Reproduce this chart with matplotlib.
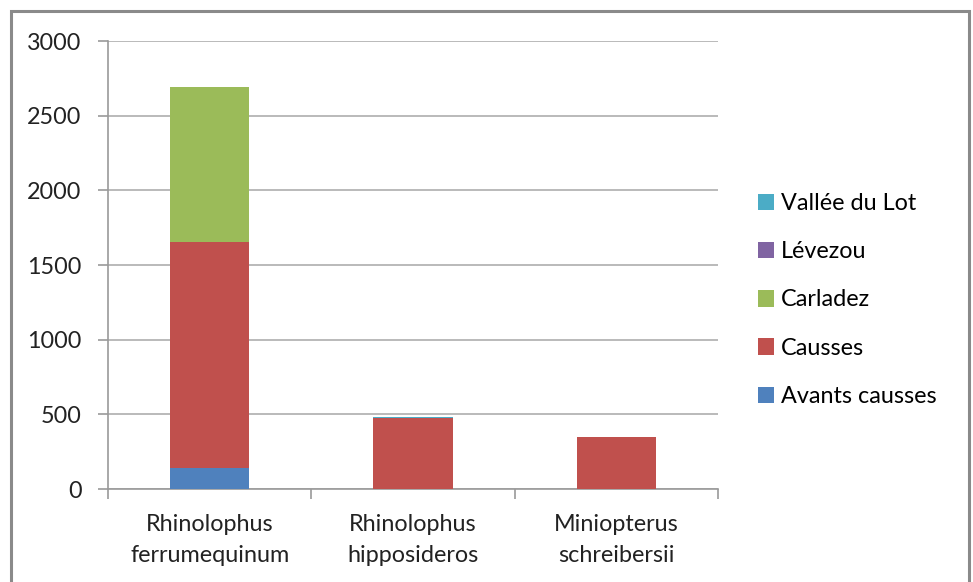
import matplotlib
matplotlib.use("Agg")
import matplotlib.pyplot as plt
from matplotlib.patches import Rectangle, Patch
import numpy as np

# Bat counts per species, broken down by region
species = ["Rhinolophus\nferrumequinum", "Rhinolophus\nhipposideros", "Miniopterus\nschreibersii"]
regions = ["Avants causses", "Causses", "Carladez", "Lévezou", "Vallée du Lot"]
avants_causses = [140, 0, 0]
causses = [1515, 473, 345]
carladez = [1040, 0, 0]
levezou = [0, 0, 0]
vallee_du_lot = [0, 7, 0]
colors = ["#4F81BD", "#C0504D", "#9BBB59", "#8064A2", "#4BACC6"]
yticks = [0, 500, 1000, 1500, 2000, 2500, 3000]

plt.rcParams["font.family"] = ["Lato", "DejaVu Sans"]
FS = 16.8

fig = plt.figure(figsize=(9.73, 5.82), dpi=100)
ax = fig.add_axes([108 / 973, 1 - 489 / 582, (718 - 108) / 973, (489 - 41) / 582])

x = np.arange(len(species))
bottom = np.zeros(len(species))
series = [avants_causses, causses, carladez, levezou, vallee_du_lot]
for vals, col in zip(series, colors):
    vals = np.array(vals, dtype=float)
    ax.bar(x, vals, width=0.39, bottom=bottom, color=col, zorder=3)
    bottom += vals

ax.set_xlim(-0.5, 2.5)
ax.set_ylim(0, 3000)
ax.set_yticks(yticks)
ax.set_yticklabels([str(v) for v in yticks], fontsize=FS, color="#222222")
ax.yaxis.grid(True, color="#AEAEAE", linewidth=1.2, zorder=0)
ax.set_axisbelow(True)

# Category boundaries carry the tick marks; labels sit at the centres
ax.set_xticks([-0.5, 0.5, 1.5, 2.5])
ax.set_xticklabels([])
ax.set_xticks(x, minor=True)
ax.set_xticklabels(species, minor=True, fontsize=FS, color="#222222", linespacing=1.6)
ax.tick_params(axis="x", which="major", length=7, color="#9A9A9A", width=1.2)
ax.tick_params(axis="x", which="minor", length=0, pad=18)
ax.tick_params(axis="y", length=7, color="#9A9A9A", width=1.2, pad=12)

for s in ["top", "right"]:
    ax.spines[s].set_visible(False)
for s in ["left", "bottom"]:
    ax.spines[s].set_color("#9A9A9A")
    ax.spines[s].set_linewidth(1.2)

handles = [Patch(facecolor=c) for c in colors][::-1]
fig.legend(handles, regions[::-1], loc="center left",
           bbox_to_anchor=(737 / 973, 1 - 300 / 582), frameon=False,
           fontsize=FS, handlelength=0.7, handleheight=0.7,
           handletextpad=0.3, labelspacing=1.17)

# Outer chart border
fig.patches.append(Rectangle((11 / 973, -0.1), (969 - 11) / 973, (582 - 11) / 582 + 0.1,
                             transform=fig.transFigure, fill=False,
                             edgecolor="#8A8A8A", linewidth=2.2))

fig.savefig("out.png", dpi=100)
